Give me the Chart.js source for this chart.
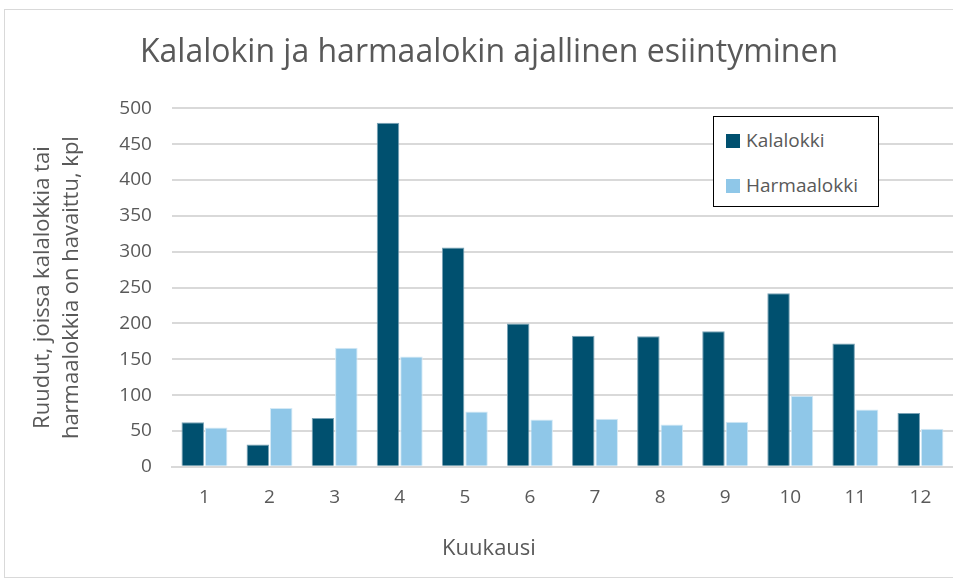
<!DOCTYPE html>
<html>
<head>
<meta charset="utf-8">
<script src="https://cdn.jsdelivr.net/npm/chart.js@4/dist/chart.umd.min.js"></script>
<style>
  html, body { margin: 0; padding: 0; background: #fff; }
  #wrap { position: relative; width: 953px; height: 579px; }
  #frame { position: absolute; left: 4px; top: 9px; width: 960px; height: 567px; border: 1px solid #d9d9d9; }
  #legend {
    position: absolute; left: 713px; top: 116px; width: 164px; height: 89px;
    border: 1.5px solid #000; background: #fff;
    font-family: "Open Sans", sans-serif; font-size: 19px; color: #595959;
  }
  #legend div { position: absolute; left: 12px; height: 24px; line-height: 24px; white-space: nowrap; }
  #legend span { display: inline-block; width: 14px; height: 14px; margin-right: 6px; vertical-align: -1px; }
</style>
</head>
<body>
<div id="wrap">
  <div id="frame"></div>
  <canvas id="gullChart" width="953" height="579"></canvas>
  <div id="legend"></div>
</div>
<script>
const months = ["1", "2", "3", "4", "5", "6", "7", "8", "9", "10", "11", "12"];
const kalalokki = [62, 31, 68, 480, 306, 200, 183, 182, 189, 242, 172, 75];
const harmaalokki = [55, 82, 166, 154, 77, 66, 67, 59, 63, 99, 80, 53];
const seriesNames = ["Kalalokki", "Harmaalokki"];

const colorDark = "#00506f",
  colorLight = "#8fc7e8",
  colorText = "#595959",
  colorGrid = "#d9d9d9";

const ctx = document.getElementById("gullChart").getContext("2d");

const gullChart = new Chart(ctx, {
  type: "bar",
  data: {
    labels: months,
    datasets: [
      {
        label: seriesNames[0],
        data: kalalokki,
        backgroundColor: colorDark,
        borderColor: "#7aa3b6",
        borderWidth: 1,
        categoryPercentage: 0.72,
        barPercentage: 0.96,
      },
      {
        label: seriesNames[1],
        data: harmaalokki,
        backgroundColor: colorLight,
        borderColor: "#d3e9f6",
        borderWidth: 1,
        categoryPercentage: 0.72,
        barPercentage: 0.96,
      },
    ],
  },
  options: {
    responsive: false,
    animation: false,
    layout: { padding: { left: 25, right: 0, top: 10, bottom: 13 } },
    plugins: {
      legend: { display: false },
      tooltip: { enabled: false },
      title: {
        display: true,
        text: "Kalalokin ja harmaalokin ajallinen esiintyminen",
        color: colorText,
        font: { family: "Open Sans", size: 32, weight: "normal" },
        padding: { top: 24, bottom: 36 },
      },
      // x axis title, centred on the whole chart like the original
      subtitle: {
        display: true,
        position: "bottom",
        text: "Kuukausi",
        color: colorText,
        font: { family: "Open Sans", size: 22, weight: "normal" },
        padding: { top: 16, bottom: 4 },
      },
    },
    scales: {
      x: {
        grid: { display: false },
        border: { color: colorGrid, width: 2 },
        ticks: { color: colorText, font: { family: "Open Sans", size: 19 }, padding: 11 },
      },
      y: {
        min: 0,
        max: 500,
        ticks: { stepSize: 50, color: colorText, font: { family: "Open Sans", size: 19 }, padding: 20 },
        grid: { color: colorGrid, lineWidth: 2, drawTicks: false },
        border: { display: false },
        title: {
          display: true,
          text: ["Ruudut, joissa kalalokkia tai", "harmaalokkia on havaittu, kpl"],
          color: colorText,
          font: { family: "Open Sans", size: 22, lineHeight: 1.28 },
          padding: { top: 4, bottom: 14 },
        },
      },
    },
  },
});

// legend box drawn as html from the datasets
const legendEl = document.getElementById("legend");
gullChart.data.datasets.forEach((ds, i) => {
  const item = document.createElement("div");
  item.style.top = (i === 0 ? 11 : 56) + "px";
  item.innerHTML = '<span style="background:' + ds.backgroundColor + '"></span>' + ds.label;
  legendEl.appendChild(item);
});
</script>
</body>
</html>
